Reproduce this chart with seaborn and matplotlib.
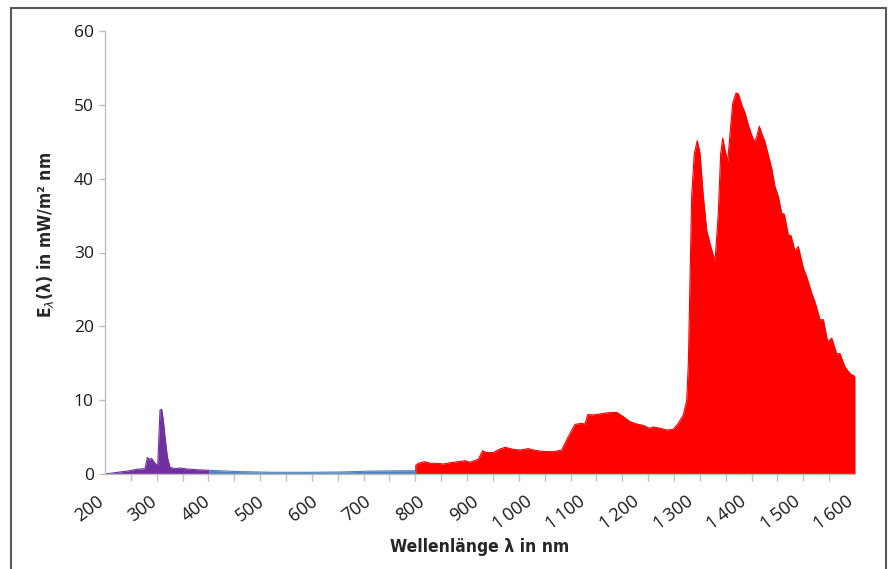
import numpy as np
import pandas as pd
import seaborn as sns
import matplotlib.pyplot as plt
from matplotlib.lines import Line2D
from matplotlib.ticker import FixedLocator
from matplotlib.transforms import ScaledTranslation

# ---- data (wavelength in nm, irradiance in mW/m^2 nm) ----
uv_nm = [200, 246.7, 259.2, 274.7, 279.0, 282.7, 287.2, 293.3, 298.4, 302.7, 305.8,
         308.8, 312.0, 316.3, 321.3, 330.7, 340.0, 352.5, 371.2, 394.1]
uv_val = [0, 0.45, 0.64, 0.72, 2.26, 2.0, 2.1, 1.45, 1.18, 8.67, 8.76,
          7.3, 5.05, 2.34, 0.9, 0.72, 0.81, 0.68, 0.58, 0.5]

vis_nm = [394.1, 452.0, 514.2, 576.5, 638.7, 700.9, 780.0]
vis_val = [0.5, 0.32, 0.23, 0.23, 0.27, 0.40, 0.45]

ir_nm = [780.0, 780.3, 784.9, 797.3, 806.7, 819.2, 831.5, 844.0, 859.5, 872.0, 881.3,
         896.8, 905.0, 911.2, 924.8, 937.3, 946.7, 962.2, 974.7, 990.2, 999.5,
         1015.2, 1036.8, 1052.5, 1064.8, 1077.3, 1089.8, 1096.0, 1101.0, 1111.5,
         1124.0, 1139.5, 1155.2, 1167.5, 1180.0, 1192.5, 1204.8, 1216.0, 1223.5,
         1236.0, 1248.5, 1260.8, 1270.2, 1279.5, 1285.9, 1288.9, 1292.0, 1295.1,
         1300.0, 1305.6, 1310.7, 1316.8, 1323.2, 1329.3, 1338.7, 1344.8, 1349.3,
         1353.1, 1357.3, 1362.4, 1366.7, 1371.7, 1377.9, 1382.2, 1388.5, 1394.7,
         1400.8, 1407.2, 1412.0, 1416.5, 1421.4, 1425.9, 1432.0, 1438.2, 1444.5,
         1450.7, 1456.8, 1463.2, 1468.0, 1475.5, 1480.5, 1488.0, 1494.2, 1503.5,
         1509.9, 1519.2, 1525.3, 1534.7, 1540.9, 1549.0, 1556.5, 1565.8, 1572.0,
         1581.3, 1590.7, 1600.0]
ir_val = [0.45, 1.22, 1.45, 1.67, 1.45, 1.45, 1.35, 1.53, 1.67, 1.8, 1.58,
          2.0, 3.16, 2.9, 2.9, 3.39, 3.61, 3.34, 3.25, 3.43, 3.25,
          3.07, 3.02, 3.25, 5.05, 6.72, 6.86, 6.75, 8.04, 8.0,
          8.13, 8.3, 8.35, 7.77, 7.09, 6.77, 6.59, 6.19, 6.37,
          6.19, 5.96, 6.05, 6.86, 8.0, 10.0, 15.0, 26.3, 37.6,
          43.4, 45.15, 43.4, 37.6, 33.0, 31.2, 28.8, 35.3, 43.4,
          45.5, 43.9, 42.3, 46.1, 50.2, 51.6, 51.5, 50.0, 48.9,
          47.3, 45.9, 45.0, 45.7, 47.1, 46.1, 45.0, 43.2, 41.4,
          38.9, 37.6, 35.3, 35.2, 32.4, 32.3, 30.2, 30.8, 27.9,
          26.7, 24.5, 23.3, 20.9, 20.9, 17.9, 18.4, 16.3, 16.3,
          14.5, 13.6, 13.2]

x_ticks = [200, 300, 400, 500, 600, 700, 800, 900, 1000, 1100, 1200, 1300, 1400, 1500, 1600]
x_tick_labels = ["200", "300", "400", "500", "600", "700", "800", "900",
                 "1\u2009000", "1\u2009100", "1\u2009200", "1\u2009300",
                 "1\u2009400", "1\u2009500", "1\u2009600"]
y_ticks = [0, 10, 20, 30, 40, 50, 60]

segments = [("UV", uv_nm, uv_val, "#7030A0"),
            ("VIS", vis_nm, vis_val, "#4F81BD"),
            ("IR", ir_nm, ir_val, "#FF0000")]

# ---- figure ----
sns.set_theme(style="white")
plt.rcParams['font.family'] = ['Open Sans', 'DejaVu Sans']

W, H = 889, 569
fig = plt.figure(figsize=(W / 100, H / 100), dpi=100)
ax = fig.add_axes([105 / W, 1 - 474 / H, (855 - 105) / W, (474 - 31) / H])

for name, xs, ys, col in segments:
    df = pd.DataFrame({"nm": xs, "E": ys})
    ax.fill_between(df["nm"], 0, df["E"], color=col, linewidth=0, zorder=2)
    sns.lineplot(data=df, x="nm", y="E", color=col, linewidth=0.8, ax=ax,
                 sort=False, estimator=None, zorder=3)

ax.set_xlim(200, 1600)
ax.set_ylim(0, 60)

for s in ["top", "right"]:
    ax.spines[s].set_visible(False)
for s in ["left", "bottom"]:
    ax.spines[s].set_color("#BFBFBF")
    ax.spines[s].set_linewidth(1.0)
    ax.spines[s].set_zorder(4)

ax.set_yticks(y_ticks)
ax.set_yticklabels([str(v) for v in y_ticks], fontsize=12.5, color="#1a1a1a")
ax.tick_params(axis="y", which="major", direction="out", length=4, width=1,
               color="#BFBFBF", pad=4, left=True)

ax.set_xticks(x_ticks)
ax.set_xticklabels(x_tick_labels, fontsize=13, color="#1a1a1a",
                   rotation=37, ha="right", rotation_mode="anchor")
ax.tick_params(axis="x", which="major", length=0, pad=13, bottom=True)
minor = [200 + k * 1400 / 29 for k in range(30)]
ax.xaxis.set_minor_locator(FixedLocator(minor))
ax.tick_params(axis="x", which="minor", direction="out", length=5, width=1,
               color="#BFBFBF", bottom=True)
shift = ScaledTranslation(-9 / 100, 0, fig.dpi_scale_trans)
for lab in ax.get_xticklabels():
    lab.set_transform(lab.get_transform() + shift)

lab_font = dict(family=["DejaVu Sans"], fontstretch="condensed", fontweight="bold")
ax.set_xlabel("Wellenlänge λ in nm", fontsize=12.5, **lab_font)
ax.set_ylabel(r"E$_{\lambda}$(λ) in mW/m² nm", fontsize=12.5, **lab_font)
ax.xaxis.set_label_coords(0.5, (474 - 547) / (474 - 31))
ax.yaxis.set_label_coords((46 - 105) / (855 - 105), (474 - 235) / (474 - 31))
ax.yaxis.label.set_verticalalignment("center")
ax.xaxis.label.set_verticalalignment("center")

# outer frame
fc = "#595959"
for (x0, y0, x1, y1) in [(11, 8, 886, 8), (11, 8, 11, 575), (886, 8, 886, 575)]:
    fig.add_artist(Line2D([x0 / W, x1 / W], [1 - y0 / H, 1 - y1 / H],
                          color=fc, linewidth=1.5, transform=fig.transFigure))

fig.savefig("out.png", dpi=100)
